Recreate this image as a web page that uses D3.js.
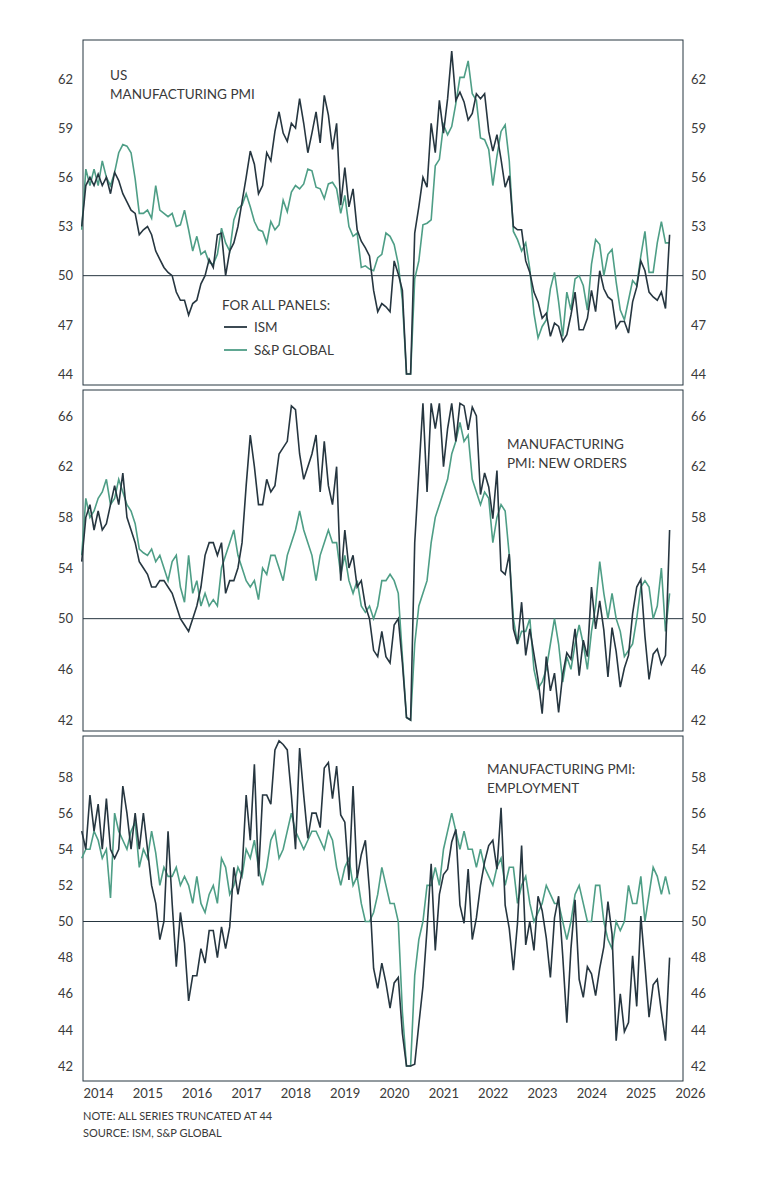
<!DOCTYPE html>
<html><head><meta charset="utf-8">
<script src="https://cdn.jsdelivr.net/npm/d3@7"></script>
<style>body{margin:0;background:#fff;font-family:Lato,"Open Sans",sans-serif;}</style>
</head><body><div id="chart"></div>
<script>
// monthly series; first point sits just inside the left frame
var startYear = 2014.17;
var years = [2014,2015,2016,2017,2018,2019,2020,2021,2022,2023,2024,2025,2026];

var ismPmi = [53,55.5,56,55.5, 56.2,55.5,56,55,56.3,55.8,55,54.5,54,53.8,52.5,52.8, 53,52.5,51.5,51,50.5,50.2,50,49,48.5,48.5,47.6,48.3, 48.5,49.5,50,51,50.5,52.5,52.6,50,51.5,52,53,54.5, 56,57.6,56.8,55,55.5,57.5,57,58.8,60,58.7,58.2,59.3, 59,60.8,59.3,57.5,58.7,60,58.1,61,59.8,57.7,59.3,54.3, 56.6,54.2,55.3,52.8,52.1,51.7,51.2,49.1,47.8,48.3,48.1,47.8, 50.9,50.1,49.1,41.5,43.1,52.6,54.2,56,55.4,59.3,57.5,60.7, 58.7,60.8,63.7,60.7,61.2,60.6,59.5,59.9,61.1,60.8,61.1,58.8, 57.6,58.6,57.1,55.4,56.1,53,52.8,52.8,50.9,50.2,49,48.4, 47.4,47.7,46.3,47.1,46.9,46,46.4,47.6,49,46.7,46.7,47.4, 49.1,47.8,50.3,49.2,48.7,48.5,46.8,47.2,47.2,46.5,48.4,49.3, 50.9,50.3,49,48.7,48.5,49,48,52.5];
var spPmi = [52.8,56.5,55.5,56.5, 55.5,57,56,55.5,56.3,57.5,58,57.9,57.5,55.9,53.8,53.8, 54,53.5,55.5,54,53.8,53.6,53.8,53,53.1,54,52.8,51.5, 52.4,51.3,51.5,50.8,50.7,51.3,52.9,52,51.5,53.4,54.1,54.3, 55,54.2,53.3,52.8,52.7,52,53.3,52.8,53.1,54.6,53.9,55.1, 55.5,55.3,55.6,56.5,56.4,55.4,55.3,54.7,55.6,55.7,55.3,53.8, 54.9,53,52.4,52.6,50.5,50.6,50.4,50.3,51.1,51.3,52.6,52.4, 51.9,50.7,48.5,44,44,49.8,50.9,53.1,53.2,53.4,56.7,57.1, 59.2,58.6,59.1,60.5,62.1,62.1,63.1,61.1,60.7,58.4,58.3,57.7, 55.5,57.3,58.8,59.2,57,52.7,52.2,51.5,52,50.4,47.7,46.2, 46.9,47.3,49.2,50.2,48.4,46.3,49,47.9,49.8,50,49.4,47.9, 50.7,52.2,51.9,50,51.3,51.6,49.6,47.9,47.3,48.5,49.7,49.4, 51.2,52.7,50.2,50.2,52,53.3,52,52];
var ismOrders = [54.5,58,59,57, 58.5,57,57.5,59,60.5,59,61.5,58,57,56,54.5,54, 53.5,52.5,52.5,53,53,52.5,52,51,50,49.5,49,50, 51,52.5,55,56,56,55,56,52,53,53,54,56, 60.5,64.5,62,59,59,61,60,60.5,63,63.5,64,66.8, 66.5,63,61,62,63,64.5,60,64,60.5,59,62,53, 57,54,55,52.5,53,51,50,47.5,47,49,47,46.5, 49.5,50,46.5,42.2,42,56,61.5,67,60,67,65,67, 62,65,67,64,67,66.8,64.9,66.7,66,59.8,61.5,60.4, 57.9,61.7,53.8,53.5,55.1,49.2,48,51.3,47.1,49.2,47.2,45.2, 42.5,47,44.3,45.7,42.6,45.6,47.3,46.8,49.2,45.5,48.3,47, 52.5,49.2,51.4,49.1,45.4,49.3,47.4,44.6,46.1,47.1,50.4,52.5, 53.1,48.6,45.2,47.2,47.6,46.4,47.1,57];
var spOrders = [55,59.5,58,58.5, 59.5,60,61,59,59.5,61,60,59,58.5,57.5,55.5,55.2, 55,55.5,54.5,55,54,53,54.5,55,52.5,51.3,55,52, 53,51,52,51,51.5,51,54,55,56,57,55,54, 53,52.5,53,51.5,54,53.5,55,55,54,53,55,56, 57,58.5,57,56,55,53,55,56,57,56,56,53.5, 55,53,52,53,51,50.5,51,50,51,53,53,53.5, 53,52,47,42.2,42,48,51,52,53,56,58,59, 60,61,63,64,65.5,64,64.5,61,60,59,60,59.5, 56,58,59,58.5,55,50,48,49,49,50,46,44.5, 45,46,48,50,48,45,47,46,48,49.5,48,46, 49,51,54.5,52,50,52,50,49,47,47.5,48,50, 52.5,53,52.5,50,51,54,49,52];
var ismEmp = [55,54,57,55, 56.5,54,56.8,54,53.5,54,57.5,56,54,56,54,56, 54,52,51,49,50,55,51,47.5,50.5,48.8,45.6,47, 47,48.5,47.7,49.5,49.5,48,49.7,48.5,49.7,53,51.5,52.8, 57,54.5,58.7,52.5,57,57,56.5,59.5,60,59.8,59.5,57, 54,59.6,57,54.6,56,56,55.2,58.5,58.8,56.8,58.6,55.9, 55.5,52.3,57.5,52.4,53.7,54.5,51.7,47.4,46.3,47.7,46.6,45.2, 46.6,46.9,43.8,42,42,42.1,44.3,46.4,49.6,53.2,48.4,51.5, 52.6,52.9,54.4,55.1,50.9,49.9,52.9,49,50.2,52,53.3,54.2, 54.5,52.9,56.3,50.9,49.6,47.3,49.9,54.2,48.7,50,48.4,51.4, 50.6,49.1,46.9,50.2,51.4,48.1,44.4,48.5,51.2,46.8,45.8,47.5, 47.1,45.9,47.4,48.6,51.1,49.3,43.4,46,43.9,44.4,48.1,45.3, 50.3,47.6,44.7,46.5,46.8,45,43.4,48];
var spEmp = [53.5,54,54,55, 54.5,53.5,54,51.3,56,55,54.5,54,55,55.5,53,54, 53.5,55,53.8,52,53,52.5,52.5,53,52,52.5,52,51, 52.5,51,50.5,51.5,52,51,53.5,53,51.5,52,53,52.5, 54,53.5,54.5,53,52,53,54.5,55,53.5,54,55,56, 55,54.5,54,54.5,55,55,54.5,54,55,54.5,53,52, 53,53.5,52,52.5,51,50,50,50.5,51.5,53,52,51, 51,50,45,42,42,47,49,50,52,52,53,52, 54,55,56,55,54,55,54,54,53,54,53,52.5, 52,53,53.5,52,53,53,51,52,52.5,51,50,50.5, 51,52,51.5,51,51,50,49,50,51.5,52,51,50, 50,52,52,50,49,48.5,50,49.5,50,52,51,51, 52.5,50,51.5,53,52.5,51.5,52.5,51.5];

var ISM_COLOR = "#263640", SP_COLOR = "#4e9e86", TEXT = "#3a3a3a";

var svg = d3.select("#chart").append("svg").attr("width", 783).attr("height", 1200);
// year labels sit at mid-year
var x = d3.scaleLinear().domain([2014.5, 2026.5]).range([98, 690]);
var left = 83, right = 683;

var panels = [
  {top: 40, bottom: 385, domain: [44, 62], y0: 79, y1: 374, ticks: d3.range(44, 63, 3), floor: 44,
   ism: ismPmi, sp: spPmi, label: ["US", "MANUFACTURING PMI"], lx: 110, ly: 80},
  {top: 390, bottom: 731, domain: [42, 66], y0: 416, y1: 720, ticks: d3.range(42, 67, 4), floor: 42,
   ism: ismOrders, sp: spOrders, label: ["MANUFACTURING", "PMI: NEW ORDERS"], lx: 507, ly: 449},
  {top: 736, bottom: 1081, domain: [42, 58], y0: 777, y1: 1066, ticks: d3.range(42, 59, 2), floor: 42,
   ism: ismEmp, sp: spEmp, label: ["MANUFACTURING PMI:", "EMPLOYMENT"], lx: 487, ly: 774}
];

panels.forEach(function(p) {
  var y = d3.scaleLinear().domain([p.domain[1], p.domain[0]]).range([p.y0, p.y1]);
  var g = svg.append("g");
  g.append("rect").attr("x", left).attr("y", p.top).attr("width", right - left).attr("height", p.bottom - p.top)
    .attr("fill", "none").attr("stroke", ISM_COLOR).attr("stroke-width", 1);
  g.append("line").attr("x1", left).attr("x2", right).attr("y1", y(50)).attr("y2", y(50))
    .attr("stroke", ISM_COLOR).attr("stroke-width", 1);

  var la = g.append("g").attr("transform", "translate(" + left + ",0)")
    .call(d3.axisLeft(y).tickValues(p.ticks).tickSize(0).tickPadding(10));
  var ra = g.append("g").attr("transform", "translate(" + right + ",0)")
    .call(d3.axisRight(y).tickValues(p.ticks).tickSize(0).tickPadding(8));
  [la, ra].forEach(function(a) {
    a.select(".domain").remove();
    a.selectAll("text").attr("fill", TEXT).style("font-size", "13px").style("font-family", "Lato, sans-serif");
  });

  var line = d3.line()
    .x(function(d, i) { return x(startYear + i / 12); })
    .y(function(d) { return y(Math.max(p.floor, d)); });
  g.append("path").datum(p.sp).attr("d", line).attr("fill", "none").attr("stroke", SP_COLOR).attr("stroke-width", 1.6);
  g.append("path").datum(p.ism).attr("d", line).attr("fill", "none").attr("stroke", ISM_COLOR).attr("stroke-width", 1.6);

  p.label.forEach(function(t, i) {
    g.append("text").attr("x", p.lx).attr("y", p.ly + i * 19).text(t)
      .attr("fill", TEXT).style("font-size", "13.5px");
  });
});

// legend in first panel
var lg = svg.append("g");
lg.append("text").attr("x", 222).attr("y", 310).text("FOR ALL PANELS:").attr("fill", TEXT).style("font-size", "13.5px");
[["ISM", ISM_COLOR], ["S&P GLOBAL", SP_COLOR]].forEach(function(d, i) {
  var yy = 327 + i * 23;
  lg.append("line").attr("x1", 224).attr("x2", 247).attr("y1", yy).attr("y2", yy).attr("stroke", d[1]).attr("stroke-width", 1.8);
  lg.append("text").attr("x", 254).attr("y", yy + 5).text(d[0]).attr("fill", TEXT).style("font-size", "13.5px");
});

// x axis
var xa = svg.append("g").attr("transform", "translate(0,1081)")
  .call(d3.axisBottom(x).tickValues(years.map(function(v) { return v + 0.5; }))
    .tickFormat(function(v) { return Math.floor(v); }).tickSize(0).tickPadding(8));
xa.select(".domain").remove();
xa.selectAll("text").attr("fill", TEXT).style("font-size", "13px").style("font-family", "Lato, sans-serif");

svg.append("text").attr("x", 83).attr("y", 1120).text("NOTE: ALL SERIES TRUNCATED AT 44")
  .attr("fill", TEXT).style("font-size", "11px");
svg.append("text").attr("x", 83).attr("y", 1137).text("SOURCE: ISM, S&P GLOBAL")
  .attr("fill", TEXT).style("font-size", "11px");
</script></body></html>
